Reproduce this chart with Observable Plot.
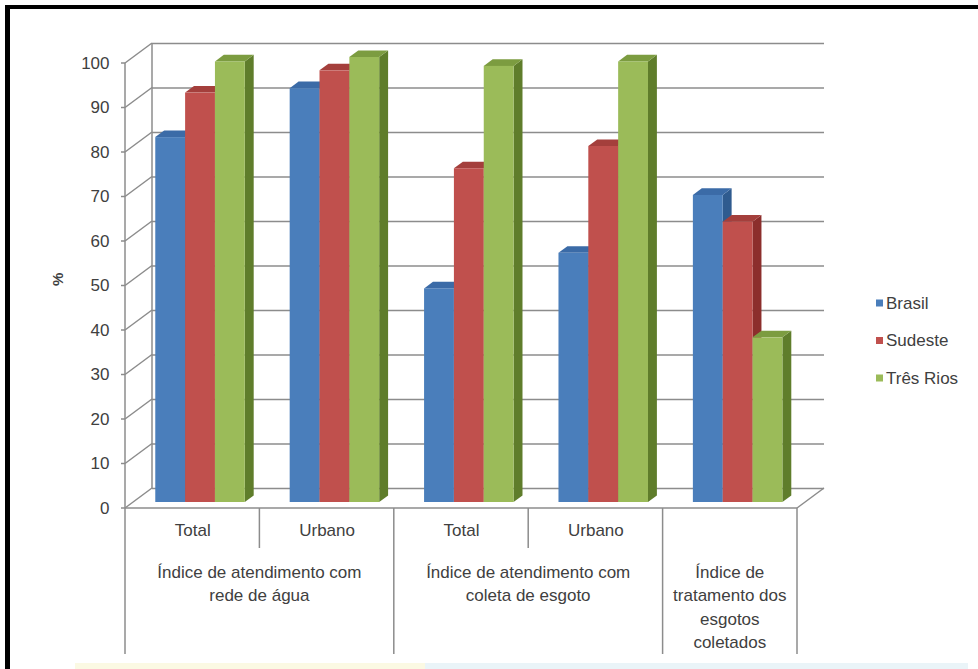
<!DOCTYPE html>
<html lang="pt">
<head>
<meta charset="utf-8">
<script src="https://cdn.jsdelivr.net/npm/d3@7"></script>
<script src="https://cdn.jsdelivr.net/npm/@observablehq/plot@0.6"></script>
<style>
  body { margin: 0; background: #fff; }
  #wrap { position: relative; width: 978px; height: 669px; overflow: hidden; background: #fff; }
  #wrap svg { position: absolute; left: 0; top: 0; }
  #frame { position: absolute; left: 5px; top: 5px; width: 1000px; height: 700px;
           border-left: 5px solid #000; border-top: 4px solid #000; pointer-events: none; }
  .strip { position: absolute; top: 663px; height: 6px; }
</style>
</head>
<body>
<div id="wrap">
  <div id="chart"></div>
  <div id="frame"></div>
  <div class="strip" style="left:75px;width:350px;background:#fbf9e3"></div>
  <div class="strip" style="left:425px;width:543px;background:#eaf4f8"></div>
</div>
<script>
// Saneamento: índices de atendimento (%) — Brasil, Sudeste e Três Rios
const keys = ["agua-total", "agua-urbano", "esgoto-total", "esgoto-urbano", "tratamento"];
const subLabels = ["Total", "Urbano", "Total", "Urbano", ""];
const groupLabels = [
  ["Índice de atendimento com", "rede de água"],
  ["Índice de atendimento com", "coleta de esgoto"],
  ["Índice de", "tratamento dos", "esgotos", "coletados"]
];
const groupSpans = [2, 2, 1];
const series = ["Brasil", "Sudeste", "Três Rios"];
const brasil   = [82, 93, 48, 56, 69];
const sudeste  = [92, 97, 75, 80, 63];
const tresRios = [99, 100, 98, 99, 37];
const yTicks = [0, 10, 20, 30, 40, 50, 60, 70, 80, 90, 100];

const seriesValues = [brasil, sudeste, tresRios];
const faceColors = [
  {front: "#4a7ebb", side: "#2f5b8f", top: "#3b6ba7"},
  {front: "#c0504d", side: "#8c2e2c", top: "#a43f3c"},
  {front: "#9bbb59", side: "#5f7d2b", top: "#7c9c40"}
];
const rows = keys.map((key, i) => ({key, sub: subLabels[i]}));

// pseudo-3D geometry (pixels)
const DEPTH_X = 27, DEPTH_Y = 20;           // floor depth offset
const BAR_FRONT = 0.3, BAR_BACK = 0.63;     // bar slab inside the depth
const BAR_LEFT = 0.165, BAR_WIDTH = 0.222;  // fractions of the band width
const GRID = "#8c8c8c", INK = "#404040";

function chart3d(index, scales, values, dimensions) {
  const {width, marginLeft, marginRight} = dimensions;
  const x = scales.x, y = scales.y;
  const X0 = marginLeft, X1 = width - marginRight;
  const bw = x && x.bandwidth && x.bandwidth() > 0 ? x.bandwidth() : (X1 - X0) / keys.length;
  const bandStart = k => X0 + keys.indexOf(k) * bw;
  const y0 = y(0);
  const g = d3.create("svg:g").attr("text-anchor", "start");
  const line = (x1, y1, x2, y2, w = 1.5) =>
    g.append("line").attr("x1", x1).attr("y1", y1).attr("x2", x2).attr("y2", y2)
      .attr("stroke", GRID).attr("stroke-width", w);

  // left wall: ticks and diagonals
  for (const t of yTicks) {
    line(X0 - 4, y(t), X0, y(t));
    line(X0, y(t), X0 + DEPTH_X, y(t) - DEPTH_Y);
  }
  line(X0, y(0), X0, y(100));
  line(X0 + DEPTH_X, y(0) - DEPTH_Y, X0 + DEPTH_X, y(100) - DEPTH_Y);

  // floor
  line(X0, y0, X1, y0);
  line(X1, y0, X1 + DEPTH_X, y0 - DEPTH_Y);

  // category separators
  const major = new Set([0]);
  groupSpans.reduce((acc, s) => (major.add(acc + s), acc + s), 0);
  for (let i = 0; i <= keys.length; i++) {
    const xb = X0 + i * bw;
    line(xb, y0, xb, y0 + (major.has(i) ? 146 : 40));
  }

  // bars: side face, top face, front face
  const fx = BAR_FRONT * DEPTH_X, fy = BAR_FRONT * DEPTH_Y;
  const ddx = (BAR_BACK - BAR_FRONT) * DEPTH_X, ddy = (BAR_BACK - BAR_FRONT) * DEPTH_Y;
  keys.forEach((k, i) => {
    seriesValues.forEach((vals, j) => {
      const c = faceColors[j];
      const left = bandStart(k) + bw * BAR_LEFT + j * bw * BAR_WIDTH + fx;
      const w = bw * BAR_WIDTH;
      const top = y(vals[i]) - fy, bottom = y0 - fy;
      const right = left + w;
      g.append("polygon")
        .attr("points", [[right, top], [right + ddx, top - ddy], [right + ddx, bottom - ddy], [right, bottom]].join(" "))
        .attr("fill", c.side);
      g.append("polygon")
        .attr("points", [[left, top], [right, top], [right + ddx, top - ddy], [left + ddx, top - ddy]].join(" "))
        .attr("fill", c.top);
      g.append("rect").attr("x", left).attr("y", top).attr("width", w).attr("height", bottom - top)
        .attr("fill", c.front);
    });
  });

  // group labels under the sub-labels
  let start = 0;
  groupLabels.forEach((lines, gi) => {
    const cx = X0 + (start + groupSpans[gi] / 2) * bw;
    start += groupSpans[gi];
    lines.forEach((txt, li) => {
      g.append("text").attr("x", cx).attr("y", y0 + 64 + li * 23.5)
        .attr("text-anchor", "middle").attr("dy", "0.35em")
        .attr("fill", INK).attr("font-size", 17).text(txt);
    });
  });

  // legend
  series.forEach((s, j) => {
    const ly = 303 + j * 37.5;
    g.append("rect").attr("x", 876).attr("y", ly - 3.5).attr("width", 7).attr("height", 7)
      .attr("fill", faceColors[j].front);
    g.append("text").attr("x", 886).attr("y", ly).attr("dy", "0.35em")
      .attr("text-anchor", "start")
      .attr("fill", INK).attr("font-size", 17).text(s);
  });
  return g.node();
}

const plot = Plot.plot({
  width: 978,
  height: 669,
  marginLeft: 125,
  marginRight: 181,
  marginTop: 63,
  marginBottom: 161,
  style: {fontFamily: "'Liberation Sans', Arial, sans-serif", fontSize: "17px", color: INK, background: "transparent"},
  x: {type: "band", domain: keys, padding: 0, round: false, axis: null},
  y: {domain: [0, 100], ticks: yTicks, tickSize: 0, tickPadding: 16, label: null},
  marks: [
    // back wall gridlines
    Plot.ruleY(yTicks, {dx: DEPTH_X, dy: -DEPTH_Y, stroke: GRID, strokeWidth: 1.5}),
    chart3d,
    // sub-category labels
    Plot.text(rows.filter(d => d.sub), {x: "key", text: "sub", frameAnchor: "bottom", dy: 27, fill: INK, fontSize: 17}),
    // vertical axis title
    Plot.text(["%"], {text: d => d, frameAnchor: "left", dx: -67, rotate: -90, fontSize: 15, fontWeight: "bold", fill: INK})
  ]
});
document.getElementById("chart").appendChild(plot);
</script>
</body>
</html>
